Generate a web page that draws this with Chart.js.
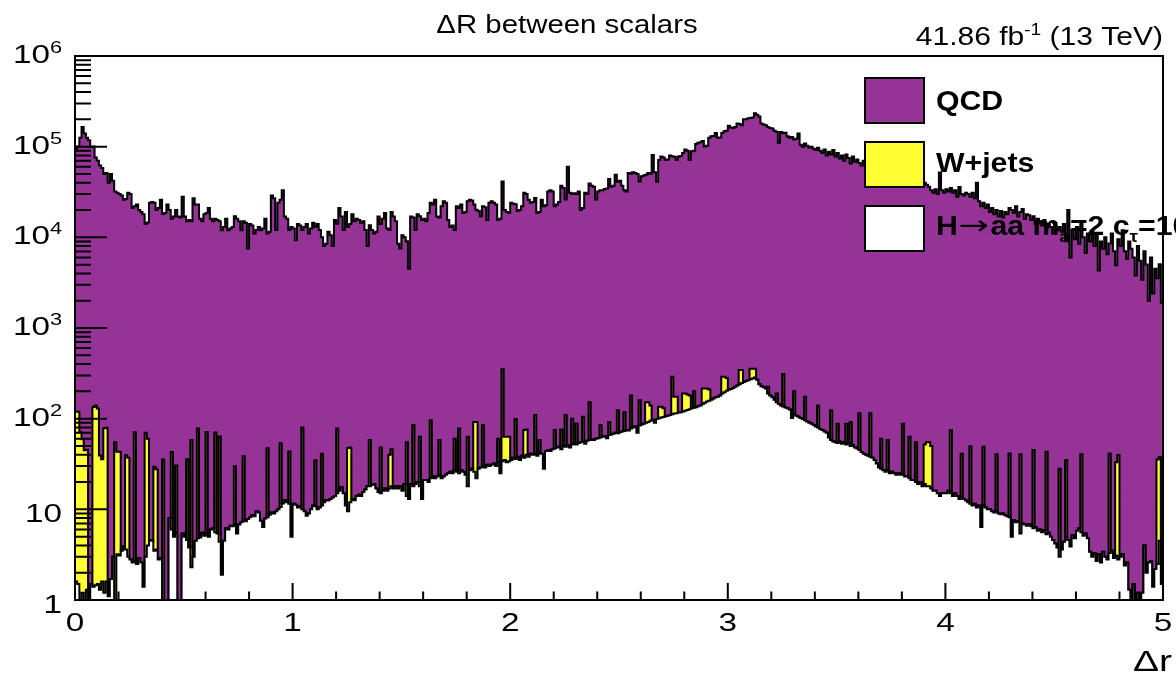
<!DOCTYPE html>
<html><head><meta charset="utf-8">
<script src="https://cdn.jsdelivr.net/npm/chart.js@4.4.1/dist/chart.umd.min.js"></script>
<style>html,body{margin:0;padding:0;background:#fff;overflow:hidden}canvas{display:block}</style>
</head><body>
<canvas id="c" width="1176" height="674"></canvas>
<script>
// ---- data (500 bins of width 0.01 in Delta r, 0..5) ----
const xMin = 0, xMax = 5;
const xTickLabels = ['0','1','2','3','4','5'];
const yDecades = [0,1,2,3,4,5,6];
const titleText = 'ΔR between scalars';
const lumiText = ['41.86 fb', '-1', ' (13 TeV)'];
const xTitle = 'Δr';
const seriesNames = ['QCD', 'W+jets', 'H→aa m_a=2 c_τ=10'];

const qcd = [
95000,100000,125000,165000,140000,125000,118000,100000,100000,76000,
70000,62000,58000,50000,51000,40000,50000,42000,32000,31000,
30000,29000,26000,26500,31000,30000,21000,22000,23000,20000,
19000,18000,14000,14500,24000,24500,24000,20000,21000,26000,
18000,18500,23000,20000,16000,17000,20000,17000,16500,28000,
17000,15000,15500,15000,27000,23000,23000,16000,15000,18000,
18500,21000,16000,15000,16000,15500,15000,12000,13000,16000,
12000,12500,13000,17000,16000,15000,12000,15000,14500,7500,
14000,13500,11000,12000,13000,12000,12500,16000,11000,11500,
29000,27000,12000,24000,26000,33000,17000,16000,12000,13000,
12500,9300,14000,13500,12000,13000,14000,11000,12500,14500,
13000,14000,12000,10000,8000,8500,11500,10500,8000,15500,
14000,21000,17000,12000,19000,13000,14000,18000,15000,16000,
15500,14500,15000,12000,8000,13500,12000,11000,11500,17000,
14000,16000,18500,12500,12000,19000,17000,15000,8500,7500,
10500,10000,9000,4500,17000,16500,12000,18000,17000,15500,
16000,15000,18500,24000,23000,26000,17000,16500,22000,25000,
24000,15500,13000,13500,12000,22000,21000,23000,18500,19000,
25000,26000,25500,23000,20000,19500,17000,22000,21500,15500,
24000,25000,24000,23000,15500,16000,41000,20000,19000,18500,
24000,23500,23000,19500,20000,22000,31000,30000,26000,24000,
24500,27000,18500,19000,26000,22000,22500,32000,33000,32000,
22000,23000,24500,37000,35000,26000,60000,31000,30000,30500,
30000,32000,20000,21000,31000,30000,39000,37000,36000,26000,
32000,33000,33000,34000,34500,44000,36000,37000,49000,41000,
42000,37000,33000,32000,51000,50000,52000,51000,50000,41000,
47000,48000,49000,51000,50000,81000,52000,41000,71000,78000,
76000,71000,72000,80000,78000,77000,71000,78000,79000,85000,
93000,90000,71000,89000,90000,107000,110000,112000,115000,100000,
102000,125000,130000,131000,141000,125000,126000,141000,148000,150000,
170000,162000,160000,165000,180000,178000,172000,200000,200000,205000,
207000,210000,234000,225000,215000,180000,175000,172000,165000,160000,
158000,150000,146000,110000,145000,140000,142000,130000,125000,128000,
120000,122000,140000,105000,100000,108000,102000,98000,100000,95000,
92000,97000,90000,85000,93000,80000,88000,82000,92000,78000,
85000,74000,80000,70000,82000,75000,65000,78000,68000,72000,
66000,62000,70000,60000,64000,58000,62000,55000,60000,57000,
54000,58000,52000,56000,50000,53000,48000,52000,49000,46000,
50000,45000,47000,43000,46000,42000,44000,40000,43000,39000,
40000,38000,36000,33000,31000,34000,30000,52000,33000,31000,
34000,32000,35000,31000,33000,28000,36000,30000,29000,31000,
30000,28000,31000,27000,40000,25000,22000,24000,21000,23000,
19000,21000,18000,20000,17000,19500,16500,19000,18000,21000,
20000,18500,22000,17000,19000,20500,16000,18000,17500,15500,
17000,14000,16000,15000,13500,15500,12500,14000,13000,11000,
14500,12000,13000,11500,14000,9000,20000,6000,12000,9500,
13000,8500,15000,10000,6700,11000,9000,12000,8000,10500,
4300,9000,7500,10000,6500,8500,11000,7000,4900,9500,
8000,12000,7000,5800,9000,7500,6000,3800,8000,5500,
3400,7000,5000,2000,6000,2400,4500,3500,5000,1900];

const wjets = [
118,118,70,58,44,44,0,0,133,138,
128,38,34,77,78,0,0,0,54,40,
40,0,0,36,34,0,0,68,0,0,
0,0,67,56,0,0,26,24,0,0,
35,0,0,0,37,0,25,0,0,0,
0,31,0,56,0,0,73,0,0,0,
66,0,0,0,65,0,59,0,0,0,
0,0,0,23,0,0,0,31,0,0,
0,0,0,0,0,0,0,0,39,0,
0,0,0,0,43,0,0,0,32,0,
0,0,0,0,70,0,0,0,0,0,
24,0,0,30,0,0,0,0,0,0,
63,0,0,0,0,38,36,0,0,0,
0,0,0,0,0,40,0,0,0,0,
33,0,0,0,23,28,0,0,0,0,
0,0,41,0,0,67,0,0,45,0,
0,0,0,74,0,0,0,34,0,0,
0,0,0,0,33,0,53,0,0,0,
45,0,0,66,70,0,0,55,0,0,
0,0,0,0,27,0,316,28,30,29,
0,0,63,0,0,0,38,36,0,0,
0,69,0,16,0,0,0,0,0,0,
28,0,0,30,0,61,0,0,48,0,
36,0,0,49,0,0,94,0,0,0,
0,23,0,0,0,26,0,0,0,55,
0,0,45,0,0,102,0,0,0,76,
0,0,62,60,45,0,0,0,34,32,
26,0,0,0,178,60,59,0,0,70,
68,60,53,0,68,0,0,0,70,65,
60,52,0,0,0,0,0,100,94,77,
0,0,0,0,0,105,97,0,0,0,
83,77,70,0,0,0,0,0,35,0,
0,0,38,0,0,175,0,0,0,0,
88,0,0,0,0,78,0,0,0,0,
0,60,0,0,0,0,0,66,0,0,
34,0,0,0,36,0,42,0,0,0,
70,0,0,0,0,77,0,0,0,0,
32,0,0,31,0,0,0,0,0,0,
64,0,0,41,0,0,35,0,0,0,
33,37,37,33,0,0,0,0,0,0,
0,0,60,0,0,0,0,27,0,0,
0,38,0,0,0,0,0,38,0,0,
0,0,0,31,0,0,0,0,0,33,
0,0,0,0,35,0,0,0,0,0,
39,0,0,0,0,0,38,0,0,0,
0,0,25,0,0,30,0,0,0,0,
0,0,35,0,0,0,0,0,0,0,
0,0,0,0,0,38,0,0,30,37,
0,0,0,0,0,0,0,0,0,0,
0,0,0,0,0,0,0,33,33,0];

const signal = [
1.6,1.5,0.8,1.2,0.9,1.3,0.5,1.5,1.4,1.45,
1.5,1.3,1.6,1.2,1.6,1.1,1.7,3.0,0.9,3.2,
3.1,3.5,3.9,3.6,3.0,2.8,2.6,2.7,2.5,2.9,
2.6,1.4,3.0,4.0,4.6,4.5,3.5,3.6,2.8,2.9,
0.5,0.6,0.8,8.0,6.0,5.0,5.5,0.7,0.8,5.4,
5.0,4.6,3.8,2.3,3.0,4.5,4.8,4.9,5.5,5.1,
5.4,5.0,6.0,6.2,5.6,5.4,4.4,1.9,4.5,6.2,
6.0,6.6,6.5,6.8,5.4,6.8,7.2,7.6,7.4,7.8,
8.2,8.6,8.4,9.6,9.2,7.5,6.4,7.9,8.2,8.7,
9.2,9.0,9.5,10,10.6,11.6,12.6,12,11.5,5.0,
11.5,11.2,10.5,10.8,10,9.5,8.5,9,10,11,
10.8,10,10.5,11,12,12.6,12.5,13,13.5,14,
15,16,17.5,15,11,9.5,12,13,12.6,14,
14.5,14,15.5,16.5,18,18,18.5,19,17,15.5,
15,16,17,16,17,18,17,18,17,18,
16,19,14,13,19,18,19,20,18,13,
21,21,20,22,23,22,23,24,22,23,
24,25,26,25,27,26,25,27,26,24,
18,27,28,26,22,28,29,30,29,31,
30,31,32,30,33,25,34,35,33,34,
35,37,36,38,35,39,37,40,38,41,
40,41,39,42,41,28,44,45,44,46,
47,48,49,46,50,49,51,48,52,53,
52,54,55,56,53,57,58,59,58,60,
61,62,63,64,61,66,67,68,70,69,
71,72,73,75,74,78,80,82,70,84,
86,88,90,92,95,97,90,99,101,103,
104,106,108,110,112,114,115,117,118,120,
122,125,127,130,132,134,137,140,145,150,
155,158,162,167,172,175,180,190,196,203,
208,212,218,225,232,240,248,254,260,266,
272,278,285,268,240,228,222,215,190,180,
172,162,152,145,140,136,133,130,126,102,
112,108,105,102,99,96,93,90,88,85,
82,80,77,75,72,70,62,58,56,55,
54,56,53,55,52,54,50,51,48,47,
45,43,41,40,39,38,37,35,32,29,
28,27,26,27,25,26,25,24,25,24,
24,23,23,22,21,21,20,19,20,18,
19,18,18,17,16,16,15,14,15,15,
15,16,15,14,15,14,13,14,13,12.5,
12,11.5,11,11.5,10.5,11,6.4,11,10.5,10,
10,9.5,9.2,9.6,9,8.8,9,8.6,8.4,8.2,
5.0,7.6,7.2,7.4,5.4,7,6.8,6.6,6.9,6.5,
6.2,6.4,5.8,6,5.6,5.9,5.3,5.5,5,4.6,
4.2,3.8,3.0,3.6,4.4,5.0,4.6,3.9,5.2,4.8,
5.8,6.2,5.6,5.1,5.4,4.8,3.4,3.0,3.3,2.7,
3.2,2.6,3.4,3.0,2.8,3.3,3.5,2.9,3.1,2.8,
3.0,3.2,2.4,2.6,1.3,0.7,1.5,0.8,1.2,0.9,
1.2,4.0,2.0,2.6,2.7,1.4,2.2,2.5,4.5,1.5];

// ---- styles ----
const PURPLE = 'rgb(150,51,150)';
const YELLOW = 'rgb(255,255,51)';
const FONT = '"Liberation Sans", Arial, Helvetica, sans-serif';

// ---- stacking (ROOT THStack: drawn as cumulative histograms) ----
const nb = qcd.length;
const bw = (xMax - xMin) / nb;
const stackSig = signal.slice();
const stackW = signal.map((v, i) => v + wjets[i]);
const stackAll = stackW.map((v, i) => v + qcd[i]);
function pts(arr) {
  const p = arr.map((v, i) => ({x: xMin + i * bw, y: v}));
  p.push({x: xMax, y: arr[arr.length - 1]});
  return p;
}
function ds(label, arr, fillColor) {
  return {label, data: pts(arr), stepped: true, fill: 'start', backgroundColor: fillColor,
    borderColor: '#000', borderWidth: 2, pointRadius: 0, tension: 0,
    borderJoinStyle: 'miter', borderCapStyle: 'butt'};
}

function drawSegs(ctx, segs, x, y, align, sx) {
  let total = 0;
  segs.forEach(s => { ctx.font = s.font; s.k = s.sx || sx; s.w = ctx.measureText(s.t).width * s.k; total += s.w + (s.gap || 0); });
  let cx = align === 'right' ? x - total : align === 'center' ? x - total / 2 : x;
  ctx.textAlign = 'left';
  ctx.textBaseline = 'alphabetic';
  segs.forEach(s => {
    ctx.save();
    ctx.font = s.font;
    ctx.translate(cx, y + (s.dy || 0));
    ctx.scale(s.k, 1);
    ctx.fillText(s.t, 0, 0);
    ctx.restore();
    cx += s.w + (s.gap || 0);
  });
}

const rootDecor = {
  id: 'rootDecor',
  afterDraw(chart) {
    const ctx = chart.ctx, xs = chart.scales.x, ys = chart.scales.y, a = chart.chartArea;
    ctx.save();
    ctx.strokeStyle = '#000';
    ctx.fillStyle = '#000';
    ctx.lineWidth = 2;
    // frame
    ctx.beginPath();
    ctx.rect(a.left, a.top, a.right - a.left, a.bottom - a.top);
    ctx.stroke();
    // y ticks
    ctx.beginPath();
    for (let k = yDecades[0]; k <= yDecades[yDecades.length - 1]; k++) {
      const yp = ys.getPixelForValue(Math.pow(10, k));
      ctx.moveTo(a.left, yp); ctx.lineTo(a.left + 32, yp);
      if (k < yDecades[yDecades.length - 1]) {
        for (let m = 2; m <= 9; m++) {
          const ym = ys.getPixelForValue(m * Math.pow(10, k));
          ctx.moveTo(a.left, ym); ctx.lineTo(a.left + 16, ym);
        }
      }
    }
    ctx.stroke();
    // x ticks
    ctx.beginPath();
    for (let i = 0; i <= 25; i++) {
      const v = xMin + i * 0.2;
      const xp = xs.getPixelForValue(v);
      const len = (i % 5 === 0) ? 17 : 8.5;
      ctx.moveTo(xp, a.bottom); ctx.lineTo(xp, a.bottom - len);
    }
    ctx.stroke();
    // x labels
    const tf = '26px ' + FONT, sf = '17px ' + FONT;
    xTickLabels.forEach((t) => {
      drawSegs(ctx, [{t, font: tf}], xs.getPixelForValue(Number(t)), 631, 'center', 1.28);
    });
    // y labels
    yDecades.forEach(k => {
      const yp = ys.getPixelForValue(Math.pow(10, k));
      if (k === 0) drawSegs(ctx, [{t: '1', font: tf}], 62, yp + 13, 'right', 1.28);
      else if (k === 1) drawSegs(ctx, [{t: '10', font: tf}], 62, yp + 13, 'right', 1.28);
      else drawSegs(ctx, [{t: '10', font: tf}, {t: String(k), font: sf, dy: -10}], 62, yp + 7, 'right', 1.28);
    });
    // titles
    drawSegs(ctx, [{t: titleText, font: '25px ' + FONT}], 567, 33, 'center', 1.175);
    drawSegs(ctx, [{t: lumiText[0], font: '25px ' + FONT}, {t: lumiText[1], font: '16px ' + FONT, dy: -10},
                   {t: lumiText[2], font: '25px ' + FONT}], 1163, 45, 'right', 1.2);
    drawSegs(ctx, [{t: xTitle, font: '30px ' + FONT}], 1172, 671, 'right', 1.3);
    // legend
    const boxes = [[78, PURPLE], [142, YELLOW], [206, '#ffffff']];
    boxes.forEach(([top, col]) => {
      ctx.fillStyle = col;
      ctx.fillRect(865, top, 59, 45);
      ctx.lineWidth = 2;
      ctx.strokeStyle = '#000';
      ctx.strokeRect(865, top, 59, 45);
    });
    ctx.fillStyle = '#000';
    const bf = 'bold 27px ' + FONT, bsf = 'bold 17px ' + FONT;
    drawSegs(ctx, [{t: seriesNames[0], font: bf}], 936, 110, 'left', 1.12);
    drawSegs(ctx, [{t: seriesNames[1], font: bf}], 936, 172, 'left', 1.12);
    drawSegs(ctx, [{t: 'H', font: bf, gap: 1}, {t: '→', font: '27px "DejaVu Sans", sans-serif', dy: -1, sx: 1.35, gap: 1},
                   {t: 'aa m', font: bf},
                   {t: 'a', font: bsf, dy: 7}, {t: '=2 c', font: bf}, {t: 'τ', font: bsf, dy: 7},
                   {t: '=10', font: bf}], 936, 235, 'left', 1.12);
    ctx.restore();
  }
};

new Chart(document.getElementById('c'), {
  type: 'line',
  data: { datasets: [ds('signal', stackSig, '#ffffff'), ds('W+jets', stackW, YELLOW), ds('QCD', stackAll, PURPLE)] },
  options: {
    responsive: false, animation: false, devicePixelRatio: 1,
    layout: { padding: { left: 75, top: 56, right: 13, bottom: 74 } },
    scales: {
      x: { type: 'linear', min: xMin, max: xMax, display: false },
      y: { type: 'logarithmic', min: 1, max: 1e6, display: false }
    },
    plugins: { legend: { display: false }, tooltip: { enabled: false }, title: { display: false } },
    events: []
  },
  plugins: [rootDecor]
});
</script>
</body></html>
